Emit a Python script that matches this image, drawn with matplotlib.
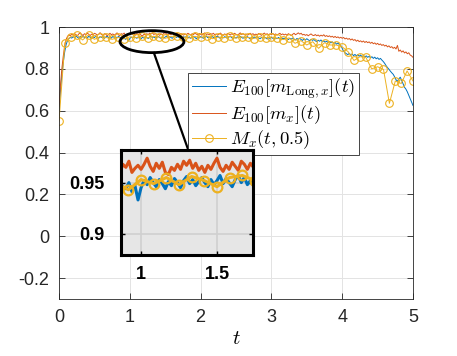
#Description
"""
Mean magnetisation curves with a zoomed inset, saved as out.png
"""

#Libraries
import matplotlib
matplotlib.use('Agg')
import matplotlib.pyplot as plt
from matplotlib.patches import Ellipse
import numpy as np

#Data
##Time grid of the expectation curves (step 0.02)
t_fine = np.round(np.arange(0, 251) * 0.02, 2)

##E100[m_x](t)
m_x = [
    0.62, 0.72, 0.80, 0.86, 0.91, 0.94, 0.955, 0.962, 0.958, 0.966,
    0.961, 0.969, 0.963, 0.958, 0.967, 0.972, 0.964, 0.960, 0.968, 0.963,
    0.971, 0.965, 0.959, 0.966, 0.962, 0.970, 0.967, 0.961, 0.965, 0.973,
    0.964, 0.960, 0.968, 0.966, 0.958, 0.964, 0.970, 0.963, 0.967, 0.961,
    0.966, 0.972, 0.962, 0.959, 0.968, 0.965, 0.971, 0.960, 0.964, 0.967,
    0.963, 0.968, 0.974, 0.966, 0.961, 0.969, 0.964, 0.970, 0.960, 0.958,
    0.965, 0.962, 0.968, 0.963, 0.971, 0.967, 0.972, 0.964, 0.969, 0.962,
    0.966, 0.960, 0.967, 0.963, 0.969, 0.974, 0.965, 0.961, 0.967, 0.963,
    0.970, 0.966, 0.962, 0.971, 0.968, 0.963, 0.969, 0.965, 0.961, 0.967,
    0.964, 0.970, 0.966, 0.961, 0.968, 0.964, 0.971, 0.966, 0.962, 0.969,
    0.965, 0.961, 0.968, 0.972, 0.964, 0.967, 0.962, 0.969, 0.965, 0.970,
    0.963, 0.967, 0.961, 0.966, 0.971, 0.964, 0.960, 0.967, 0.963, 0.969,
    0.966, 0.962, 0.968, 0.964, 0.970, 0.965, 0.961, 0.966, 0.972, 0.964,
    0.968, 0.963, 0.967, 0.961, 0.965, 0.970, 0.964, 0.968, 0.962, 0.966,
    0.963, 0.969, 0.965, 0.960, 0.966, 0.971, 0.964, 0.968, 0.962, 0.967,
    0.964, 0.969, 0.963, 0.967, 0.961, 0.966, 0.970, 0.963, 0.967, 0.962,
    0.966, 0.961, 0.968, 0.964, 0.959, 0.965, 0.970, 0.963, 0.967, 0.972,
    0.966, 0.970, 0.962, 0.965, 0.960, 0.964, 0.958, 0.963, 0.967, 0.961,
    0.959, 0.964, 0.958, 0.962, 0.956, 0.961, 0.957, 0.963, 0.955, 0.959,
    0.954, 0.958, 0.952, 0.956, 0.950, 0.955, 0.949, 0.953, 0.947, 0.951,
    0.946, 0.950, 0.943, 0.947, 0.941, 0.945, 0.938, 0.943, 0.936, 0.940,
    0.932, 0.937, 0.930, 0.934, 0.928, 0.933, 0.926, 0.931, 0.925, 0.929,
    0.922, 0.927, 0.920, 0.924, 0.917, 0.922, 0.915, 0.919, 0.912, 0.916,
    0.909, 0.913, 0.905, 0.910, 0.902, 0.906, 0.898, 0.903, 0.895, 0.912,
    0.884, 0.890, 0.880, 0.886, 0.876, 0.881, 0.872, 0.877, 0.866, 0.862,
    0.855,
]

##E100[m_Long,x](t)
m_long = [
    0.60, 0.69, 0.77, 0.83, 0.88, 0.915, 0.935, 0.945, 0.950, 0.947,
    0.954, 0.949, 0.957, 0.951, 0.946, 0.955, 0.950, 0.958, 0.948, 0.953,
    0.947, 0.956, 0.951, 0.944, 0.953, 0.949, 0.957, 0.952, 0.946, 0.954,
    0.950, 0.955, 0.945, 0.952, 0.957, 0.949, 0.953, 0.947, 0.955, 0.950,
    0.953, 0.948, 0.955, 0.951, 0.946, 0.944, 0.950, 0.941, 0.947, 0.933,
    0.945, 0.952, 0.948, 0.955, 0.950, 0.946, 0.953, 0.949, 0.944, 0.951,
    0.947, 0.954, 0.950, 0.945, 0.952, 0.956, 0.949, 0.953, 0.947, 0.951,
    0.955, 0.950, 0.946, 0.953, 0.948, 0.952, 0.957, 0.949, 0.954, 0.950,
    0.946, 0.953, 0.957, 0.950, 0.955, 0.948, 0.952, 0.947, 0.954, 0.950,
    0.955, 0.949, 0.953, 0.946, 0.951, 0.956, 0.950, 0.944, 0.952, 0.948,
    0.954, 0.950, 0.946, 0.953, 0.957, 0.949, 0.952, 0.947, 0.955, 0.950,
    0.948, 0.953, 0.956, 0.950, 0.945, 0.952, 0.948, 0.954, 0.950, 0.946,
    0.952, 0.955, 0.949, 0.944, 0.951, 0.947, 0.953, 0.949, 0.955, 0.950,
    0.946, 0.952, 0.948, 0.954, 0.949, 0.943, 0.950, 0.946, 0.952, 0.948,
    0.953, 0.947, 0.944, 0.950, 0.946, 0.952, 0.948, 0.943, 0.949, 0.945,
    0.951, 0.946, 0.942, 0.948, 0.944, 0.950, 0.945, 0.941, 0.947, 0.943,
    0.949, 0.944, 0.940, 0.946, 0.942, 0.947, 0.943, 0.938, 0.945, 0.941,
    0.946, 0.940, 0.936, 0.943, 0.938, 0.944, 0.939, 0.934, 0.941, 0.936,
    0.940, 0.934, 0.930, 0.937, 0.932, 0.938, 0.929, 0.934, 0.928, 0.932,
    0.926, 0.931, 0.924, 0.929, 0.921, 0.926, 0.918, 0.923, 0.916, 0.912,
    0.898, 0.884, 0.877, 0.872, 0.868, 0.874, 0.866, 0.871, 0.863, 0.869,
    0.862, 0.868, 0.860, 0.866, 0.858, 0.864, 0.857, 0.862, 0.855, 0.860,
    0.853, 0.858, 0.850, 0.856, 0.848, 0.853, 0.845, 0.850, 0.842, 0.835,
    0.826, 0.815, 0.806, 0.798, 0.789, 0.781, 0.774, 0.762, 0.748, 0.740,
    0.752, 0.760, 0.745, 0.728, 0.712, 0.703, 0.690, 0.674, 0.659, 0.642,
    0.625,
]

##M_x(t, 0.5), sampled every 1/12
t_coarse = np.arange(0, 61) / 12
m_median = [
    0.55, 0.925, 0.954, 0.962, 0.938, 0.962, 0.941, 0.954, 0.950, 0.941,
    0.950, 0.943, 0.953, 0.949, 0.955, 0.948, 0.956, 0.952, 0.946, 0.955,
    0.957, 0.952, 0.947, 0.955, 0.950, 0.958, 0.944, 0.952, 0.949, 0.956,
    0.947, 0.953, 0.950, 0.945, 0.954, 0.948, 0.952, 0.946, 0.940, 0.948,
    0.922, 0.935, 0.914, 0.930, 0.898, 0.925, 0.914, 0.914, 0.905, 0.882,
    0.840, 0.858, 0.855, 0.800, 0.810, 0.797, 0.635, 0.742, 0.730, 0.790,
    0.742,
]

##Labels and ticks
labels = [r'$E_{100}[m_{\mathrm{Long},x}](t)$', r'$E_{100}[m_x](t)$', r'$M_x(t,0.5)$']
x_ticks = [0, 1, 2, 3, 4, 5]
y_ticks = [-0.2, 0, 0.2, 0.4, 0.6, 0.8, 1]
inset_x_ticks = [1, 1.5]
inset_y_ticks = [0.9, 0.95]

#Constants
BLUE = '#0072BD'
RED = '#D95319'
YELLOW = '#EDB120'
W, H = 457, 356


def fmt(v):
    return '{:g}'.format(v)


#Main
def main():
    plt.rcParams['font.family'] = ['Liberation Sans', 'DejaVu Sans']
    plt.rcParams['mathtext.fontset'] = 'cm'

    fig = plt.figure(figsize=(W / 100, H / 100), dpi=100)

    ##Main axes
    ax = fig.add_axes([59 / W, 1 - 299 / H, 354 / W, 272 / H])
    ax.plot(t_fine, m_long, color=BLUE, lw=0.7, label=labels[0])
    ax.plot(t_fine, m_x, color=RED, lw=0.7, label=labels[1])
    ax.plot(t_coarse, m_median, color=YELLOW, lw=0.7, marker='o', ms=5.5,
            mfc='none', mew=0.8, label=labels[2])
    ax.set_xlim(0, 5)
    ax.set_ylim(-0.3, 1)
    ax.set_xticks(x_ticks)
    ax.set_xticklabels([fmt(v) for v in x_ticks])
    ax.set_yticks(y_ticks)
    ax.set_yticklabels([fmt(v) for v in y_ticks])
    ax.tick_params(direction='in', length=4, width=0.6, labelsize=13,
                   colors='#262626', top=True, right=True, pad=7)
    ax.grid(True, color='#e3e3e3', lw=0.7)
    for s in ax.spines.values():
        s.set_color('#262626')
        s.set_linewidth(0.6)
    ax.set_xlabel(r'$t$', fontsize=15, labelpad=2)

    ##Zoom marker and connector
    ax.add_patch(Ellipse((1.313, 0.930), 0.903, 0.105, fill=False, ec='black',
                         lw=2, zorder=5))
    ax.plot([1.341, 1.821], [0.876, 0.417], color='black', lw=1.6,
            clip_on=False, zorder=5)

    ##Legend
    leg = ax.legend(loc='upper left', bbox_to_anchor=(188 / W, 1 - 73 / H),
                    bbox_transform=fig.transFigure, borderaxespad=0,
                    fontsize=13.4, fancybox=False, framealpha=1,
                    edgecolor='#262626', handlelength=1.85, handletextpad=0.2,
                    labelspacing=0.12, borderpad=0.2)
    leg.get_frame().set_linewidth(0.6)
    leg.set_zorder(6)

    ##Inset
    ins = fig.add_axes([121 / W, 1 - 255 / H, 132 / W, 105 / H])
    ins.set_facecolor('#e6e6e6')
    ins.plot(t_fine, m_long, color=BLUE, lw=2.2)
    ins.plot(t_fine, m_x, color=RED, lw=2.2)
    ins.plot(t_coarse, m_median, color=YELLOW, lw=2.2, marker='o', ms=7,
             mfc='none', mew=1.6)
    ins.set_xlim(0.868, 1.737)
    ins.set_ylim(0.879, 0.982)
    ins.set_xticks(inset_x_ticks)
    ins.set_xticklabels([fmt(v) for v in inset_x_ticks], fontweight='bold')
    ins.set_yticks(inset_y_ticks)
    ins.set_yticklabels([fmt(v) for v in inset_y_ticks], fontweight='bold')
    ins.tick_params(direction='in', length=3, width=1, labelsize=13,
                    top=True, right=True)
    ins.tick_params(axis='x', pad=8)
    ins.tick_params(axis='y', pad=12)
    ins.grid(True, color='#d0d0d0', lw=1.2)
    for s in ins.spines.values():
        s.set_color('black')
        s.set_linewidth(2.2)

    fig.savefig('out.png', dpi=100)


#Execution
if __name__ == '__main__':
    main()
